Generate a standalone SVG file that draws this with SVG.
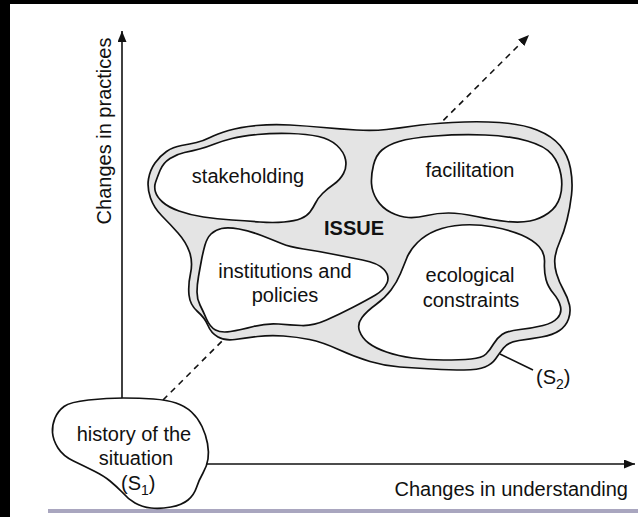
<svg xmlns="http://www.w3.org/2000/svg" width="638" height="517" viewBox="0 0 638 517">
<style>
text{font-family:"Liberation Sans",Arial,"Helvetica",sans-serif;font-size:20px;fill:#111}
.c{text-anchor:middle}
.b{font-weight:bold}
.ln{fill:none;stroke:#111;stroke-width:1.6}
.ring{fill:#e4e4e4;stroke:#111;stroke-width:1.7}
.blob{fill:#fff;stroke:#111;stroke-width:1.7}
</style>
<defs>
<marker id="ah" markerUnits="userSpaceOnUse" markerWidth="12" markerHeight="10" refX="11" refY="4.5" orient="auto">
<path d="M0,0 L11,4.5 L0,9 z" fill="#111"/>
</marker>
</defs>
<rect x="0" y="0" width="638" height="517" fill="#fff"/>
<rect x="0" y="0" width="638" height="4" fill="#000"/>
<rect x="0" y="0" width="10" height="517" fill="#000"/>
<rect x="48" y="509" width="590" height="4" fill="#a9a6bf"/>

<g id="connectors">
<line class="ln" x1="122" y1="400" x2="122" y2="31" marker-end="url(#ah)"/>
<line class="ln" x1="205" y1="464" x2="635" y2="464" marker-end="url(#ah)"/>
<line class="ln" x1="163" y1="400" x2="529" y2="35" stroke-dasharray="6 5" marker-end="url(#ah)"/>
<line class="ln" x1="500" y1="354" x2="533" y2="370" stroke-width="1.2"/>
</g>

<g id="axis-labels">
<text class="c" transform="translate(111,131) rotate(-90)">Changes in practices</text>
<text x="628" y="496" text-anchor="end">Changes in understanding</text>
</g>

<g id="issue">
<path class="ring" d="M 155,163 Q 160,156 166.5,151.5 Q 173,147 181.5,145.5 Q 190,144 196.5,142.5 Q 203,141 210,137.5 Q 217,134 228.5,130.5 Q 240,127 256.5,125.5 Q 273,124 290,125 Q 307,126 323.5,127.5 Q 340,129 356.5,130 Q 373,131 386.5,129.5 Q 400,128 413.5,126 Q 427,124 452,122.5 Q 477,121 499.5,122.5 Q 522,124 537,130 Q 552,136 560,145.5 Q 568,155 570.5,168.5 Q 573,182 571.5,195 Q 570,208 567,220 Q 564,232 560,241 Q 556,250 555,257.5 Q 554,265 556.5,273.5 Q 559,282 563.5,290 Q 568,298 569.5,305 Q 571,312 568.5,319 Q 566,326 559.5,330.5 Q 553,335 541.5,337 Q 530,339 519,340.5 Q 508,342 503.5,348 Q 499,354 495.5,359 Q 492,364 485,367 Q 478,370 464,370 Q 450,370 432.5,369 Q 415,368 400,367 Q 385,366 370,361.5 Q 355,357 338.5,349.5 Q 322,342 309.5,339.5 Q 297,337 283.5,336 Q 270,335 257.5,336.5 Q 245,338 235,339.5 Q 225,341 218,337 Q 211,333 208,325.5 Q 205,318 197.5,311.5 Q 190,305 189,295 Q 188,285 190.5,273.5 Q 193,262 189.5,252 Q 186,242 178,233 Q 170,224 162,216 Q 154,208 150.5,198 Q 147,188 148.5,179 Q 150,170 155,163 Z"/>
<text class="c b" x="354" y="235" font-size="19">ISSUE</text>
<text x="536" y="384">(S<tspan font-size="14" dy="5">2</tspan><tspan dy="-5">)</tspan></text>
</g>

<g id="stakeholding">
<path class="blob" d="M 160,170.5 Q 163,163 170,158.5 Q 177,154 184.5,152.5 Q 192,151 199.5,149 Q 207,147 214.5,144 Q 222,141 232,138.5 Q 242,136 257.5,134.5 Q 273,133 290,133.5 Q 307,134 318.5,136.5 Q 330,139 337,145.5 Q 344,152 345.5,159.5 Q 347,167 343.5,173.5 Q 340,180 333.5,184.5 Q 327,189 322.5,193.5 Q 318,198 315.5,203 Q 313,208 310,212 Q 307,216 301,218.5 Q 295,221 284,222 Q 273,223 260,222 Q 247,221 232,220 Q 217,219 203.5,217 Q 190,215 179,211 Q 168,207 162.5,202 Q 157,197 155.5,192 Q 154,187 155.5,182.5 Q 157,178 160,170.5 Z"/>
<text class="c" x="248" y="183">stakeholding</text>
</g>

<g id="facilitation">
<path class="blob" d="M 373.5,165 Q 376,155 382,150 Q 388,145 399,141.5 Q 410,138 435,136 Q 460,134 485,135 Q 510,136 527.5,141 Q 545,146 552,154.5 Q 559,163 561,175 Q 563,187 560,197 Q 557,207 548.5,213 Q 540,219 530,221 Q 520,223 506.5,221.5 Q 493,220 476.5,216.5 Q 460,213 448.5,213 Q 437,213 427,215.5 Q 417,218 408.5,217.5 Q 400,217 391,212.5 Q 382,208 377,200 Q 372,192 371.5,183.5 Q 371,175 373.5,165 Z"/>
<text class="c" x="470" y="177">facilitation</text>
</g>

<g id="institutions">
<path class="blob" d="M 205,245 Q 207,238 211,234 Q 215,230 221.5,228.5 Q 228,227 239,229 Q 250,231 261.5,235.5 Q 273,240 281.5,243.5 Q 290,247 303.5,249 Q 317,251 332,254 Q 347,257 362.5,260 Q 378,263 384,269.5 Q 390,276 387,283 Q 384,290 375.5,295 Q 367,300 353.5,307 Q 340,314 326.5,320 Q 313,326 301.5,325.5 Q 290,325 278.5,324 Q 267,323 253.5,326.5 Q 240,330 230.5,331.5 Q 221,333 215.5,330 Q 210,327 206.5,319 Q 203,311 200,305 Q 197,299 197,292 Q 197,285 198.5,276.5 Q 200,268 201.5,260 Q 203,252 205,245 Z"/>
<text class="c" x="285" y="278">institutions and</text>
<text class="c" x="285" y="302">policies</text>
</g>

<g id="ecological">
<path class="blob" d="M 407,257.5 Q 410,250 417.5,242.5 Q 425,235 436,230.5 Q 447,226 462,225 Q 477,224 493.5,227 Q 510,230 521.5,235 Q 533,240 539,246.5 Q 545,253 544.5,262.5 Q 544,272 546,279.5 Q 548,287 553.5,293.5 Q 559,300 560.5,306.5 Q 562,313 557.5,318 Q 553,323 543,325.5 Q 533,328 520,329.5 Q 507,331 502,334.5 Q 497,338 493.5,344 Q 490,350 486,354 Q 482,358 471,359 Q 460,360 443.5,360 Q 427,360 412.5,358 Q 398,356 386.5,352 Q 375,348 368.5,343 Q 362,338 359.5,331 Q 357,324 362,317.5 Q 367,311 376,304.5 Q 385,298 391,290 Q 397,282 400.5,273.5 Q 404,265 407,257.5 Z"/>
<text class="c" x="470" y="282">ecological</text>
<text class="c" x="471" y="307">constraints</text>
</g>

<g id="history">
<path class="blob" d="M 88.5,400 Q 107,398 123.5,398 Q 140,398 153.5,399 Q 167,400 176,403 Q 185,406 191.5,412 Q 198,418 202,426.5 Q 206,435 207.5,443.5 Q 209,452 208,459 Q 207,466 203,473 Q 199,480 196.5,487.5 Q 194,495 188,500 Q 182,505 171,507 Q 160,509 151,508 Q 142,507 135,503 Q 128,499 122,492 Q 116,486 110,481 Q 104,476 94,471 Q 84,466 73.5,461 Q 63,456 58,448 Q 53,440 52.5,432.5 Q 52,425 55,418 Q 58,411 64,406.5 Q 70,402 88.5,400 Z"/>
<text class="c" x="134" y="441">history of the</text>
<text class="c" x="136" y="465">situation</text>
<text x="121" y="490">(S<tspan font-size="14" dy="5">1</tspan><tspan dy="-5">)</tspan></text>
</g>
</svg>
